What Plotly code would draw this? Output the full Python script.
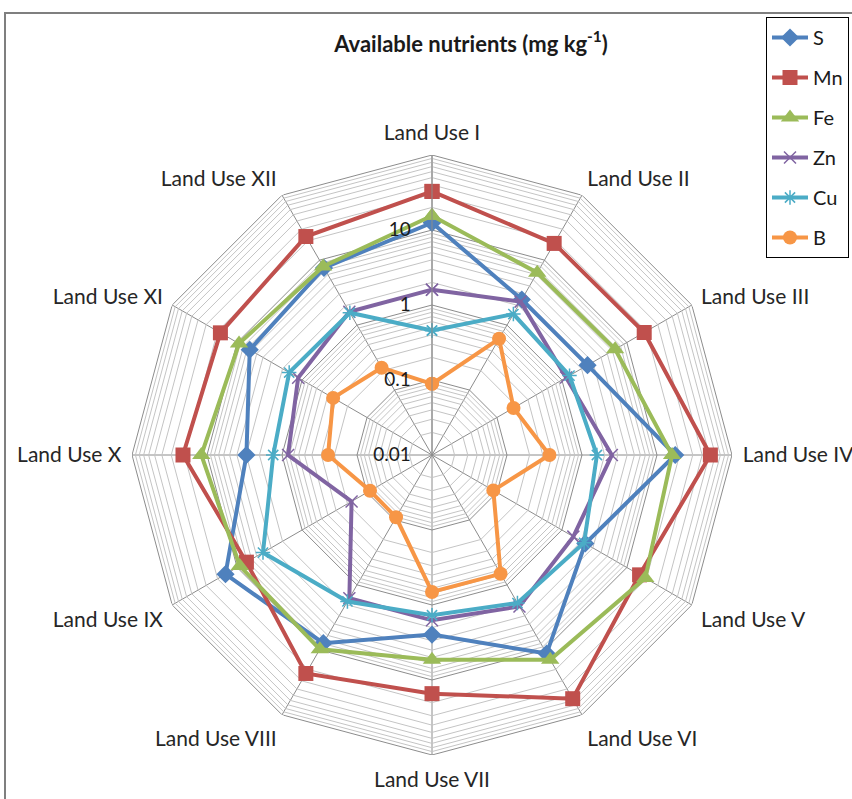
import plotly.graph_objects as go

# Land-use categories around the radar
categories = ["Land Use I", "Land Use II", "Land Use III", "Land Use IV",
              "Land Use V", "Land Use VI", "Land Use VII", "Land Use VIII",
              "Land Use IX", "Land Use X", "Land Use XI", "Land Use XII"]

# Available nutrient concentrations (mg kg-1)
S_vals  = [12.5, 2.48, 2.48, 17.5, 2.29, 11.4, 2.48, 7.9, 15.1, 2.98, 6.4, 7.6]
Mn_vals = [32.7, 18.1, 18.5, 51.5, 15.7, 56.5, 15.2, 23.1, 7.2, 20.9, 18.1, 23.1]
Fe_vals = [15.5, 6.4, 6.6, 15.9, 19.2, 14.2, 5.35, 9.8, 9.1, 11.9, 9.35, 8.0]
Zn_vals = [1.6, 2.3, 1.16, 2.5, 1.5, 2.15, 1.6, 1.6, 0.173, 0.83, 1.15, 1.6]
Cu_vals = [0.457, 1.48, 1.31, 1.58, 2.2, 1.9, 1.37, 1.8, 4.0, 1.31, 1.58, 1.55]
B_vals  = [0.089, 0.615, 0.18, 0.368, 0.088, 0.675, 0.67, 0.091, 0.09, 0.243, 0.333, 0.221]

# Radial (log) axis decades; the outermost ring (100) is unlabelled
major_ticks = [0.01, 0.1, 1, 10, 100]
tick_labels = ["0.01", "0.1", "1", "10"]

series = [
    ("S",  S_vals,  "#4F81BD", "diamond",       14),
    ("Mn", Mn_vals, "#C0504D", "square",        15),
    ("Fe", Fe_vals, "#9BBB59", "triangle-up",   16),
    ("Zn", Zn_vals, "#8064A2", "x-thin-open",   12),
    ("Cu", Cu_vals, "#4BACC6", "asterisk-open", 12),
    ("B",  B_vals,  "#F79646", "circle",        14),
]

theta_closed = categories + [categories[0]]

# minor ring values between decades (2..9 x 10^k)
minor_ticks = [base * m for base in major_ticks[:-1] for m in range(2, 10)]

fig = go.Figure()

# polygonal web: light minor rings, darker decade rings
for v in minor_ticks:
    fig.add_trace(go.Scatterpolar(
        r=[v] * len(theta_closed), theta=theta_closed, mode="lines",
        line=dict(color="#c4c4c4", width=1), showlegend=False, hoverinfo="skip"))
for v in major_ticks[1:]:
    fig.add_trace(go.Scatterpolar(
        r=[v] * len(theta_closed), theta=theta_closed, mode="lines",
        line=dict(color="#8c8c8c", width=1), showlegend=False, hoverinfo="skip"))

for name, vals, color, symbol, size in series:
    open_sym = symbol.endswith("open")
    fig.add_trace(go.Scatterpolar(
        r=vals + [vals[0]], theta=theta_closed, name=name, legendgroup=name,
        mode="lines+markers",
        line=dict(color=color, width=4),
        marker=dict(symbol=symbol, size=size, color=color,
                    line=dict(color=color, width=1.5 if open_sym else 0)),
    ))

label_font = dict(family="Lato, 'Open Sans', sans-serif", size=21, color="#262626")

fig.update_layout(
    width=852, height=799,
    margin=dict(l=0, r=0, t=0, b=0),
    paper_bgcolor="white",
    font=label_font,
    title=dict(text="<b>Available nutrients (mg kg<sup>-1</sup>)</b>",
               x=471 / 852, y=1 - 44 / 799, xanchor="center", yanchor="middle",
               font=dict(family="Lato, sans-serif", size=22, color="#1a1a1a")),
    polar=dict(
        domain=dict(x=[132 / 852, 732 / 852], y=[44 / 799, 644 / 799]),
        bgcolor="white",
        radialaxis=dict(type="log", range=[-2, 2], angle=90, tickangle=90,
                        side="counterclockwise",
                        tickvals=major_ticks[:-1], ticktext=tick_labels,
                        showgrid=False,
                        showline=True, linecolor="#8c8c8c", linewidth=1,
                        ticks="outside", ticklen=14, tickcolor="rgba(0,0,0,0)",
                        tickfont=dict(size=19, color="#1a1a1a")),
        angularaxis=dict(direction="clockwise", rotation=90,
                         gridcolor="#8c8c8c", showline=False,
                         ticks="outside", ticklen=6, tickcolor="rgba(0,0,0,0)",
                         tickfont=label_font),
    ),
    legend=dict(x=766 / 852, y=1 - 17 / 799, xanchor="left", yanchor="top",
                bordercolor="black", borderwidth=1, bgcolor="white",
                font=dict(family="Lato, sans-serif", size=20, color="#1a1a1a"),
                tracegroupgap=11, itemwidth=36),
    shapes=[dict(type="rect", xref="paper", yref="paper",
                 x0=5 / 852, x1=1.02, y0=-0.02, y1=1 - 13 / 799,
                 line=dict(color="#7f7f7f", width=2), layer="below")],
)

fig.write_html("out.html")
